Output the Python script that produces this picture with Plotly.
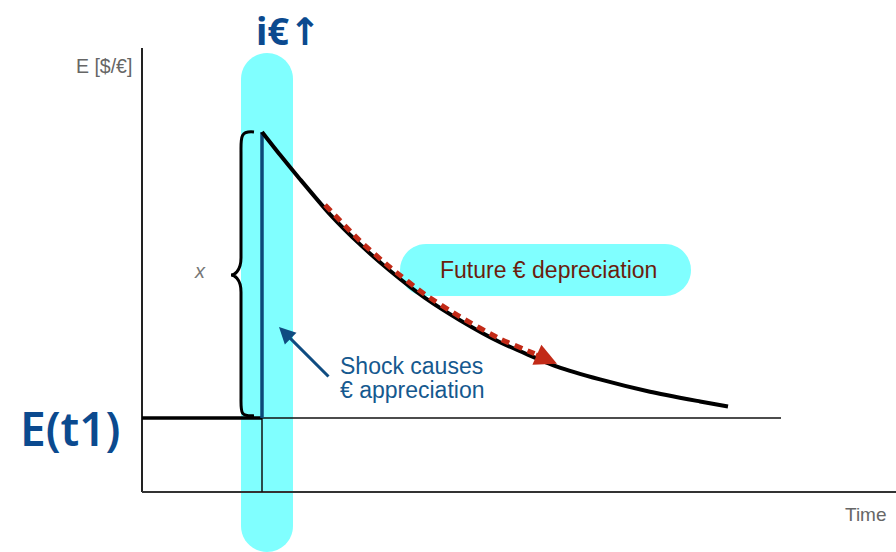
import plotly.graph_objects as go

# ---------------- data (schematic units: time t, exchange rate E) ----------------
T_SHOCK = 0.0            # moment of the shock
E_OLD = 1.00             # E(t1) before the shock
E_PEAK = 2.00            # E right after the shock (overshoot)
T_AXIS_START = -2.4      # origin of the axes
T_AXIS_END = 12.68
E_AXIS_BOTTOM = 0.741
E_AXIS_TOP = 2.294
T_REF_END = 10.38        # end of the thin E(t1) reference line

# path of E after the shock
curve_t = [0.0, 0.36, 0.76, 1.36, 1.96, 2.56, 3.26, 3.96, 4.76, 5.9, 6.76, 7.76, 8.76, 9.32]
curve_E = [2.00, 1.92, 1.835, 1.712, 1.607, 1.515, 1.42, 1.342, 1.265, 1.18, 1.135, 1.092, 1.058, 1.04]

# expected depreciation (red dashed arrow)
exp_t = [1.26, 1.96, 2.56, 3.26, 3.96, 4.76, 5.45]
exp_E = [1.745, 1.619, 1.527, 1.432, 1.354, 1.277, 1.225]
exp_head_t, exp_head_E = 5.9, 1.19

# labels
y_label = "E [$/€]"
x_label = "Time"
pill_label = "Future € depreciation"
shock_lines = ["Shock causes", "€ appreciation"]
gap_label = "x"
hand_E = "E(t1)"
hand_i = "i€↑"

FONT = "Liberation Sans, Arial, Helvetica, sans-serif"
CYAN = "#80ffff"
NAVY = "#0d4a78"
HAND = "#0b4a8f"
RED = "#c22a17"
GRAY = "#666666"

fig = go.Figure()

# axes
fig.add_trace(go.Scatter(x=[T_AXIS_START, T_AXIS_START], y=[E_AXIS_TOP, E_AXIS_BOTTOM],
                         mode="lines", line=dict(color="#222222", width=2)))
fig.add_trace(go.Scatter(x=[T_AXIS_START, T_AXIS_END], y=[E_AXIS_BOTTOM, E_AXIS_BOTTOM],
                         mode="lines", line=dict(color="#333333", width=2)))
# thin reference lines
fig.add_trace(go.Scatter(x=[T_SHOCK, T_REF_END], y=[E_OLD, E_OLD],
                         mode="lines", line=dict(color="#111111", width=1.5)))
fig.add_trace(go.Scatter(x=[T_SHOCK, T_SHOCK], y=[E_AXIS_BOTTOM, E_OLD],
                         mode="lines", line=dict(color="#111111", width=1.5)))
# pre-shock level
fig.add_trace(go.Scatter(x=[T_AXIS_START, T_SHOCK], y=[E_OLD, E_OLD],
                         mode="lines", line=dict(color="#000000", width=3.5)))
# jump
fig.add_trace(go.Scatter(x=[T_SHOCK, T_SHOCK], y=[E_OLD, E_PEAK],
                         mode="lines", line=dict(color=NAVY, width=3.5)))
# decay path
fig.add_trace(go.Scatter(x=curve_t, y=curve_E, mode="lines",
                         line=dict(color="#000000", width=4, shape="spline", smoothing=0.6)))
# expected depreciation
fig.add_trace(go.Scatter(x=exp_t, y=exp_E, mode="lines",
                         line=dict(color=RED, width=5, dash="8px,6px", shape="spline", smoothing=0.6)))

# ---------------- decorations ----------------
def stadium(x0, x1, y0, y1, rx, ry):
    k = 0.5523
    return (f"M {x0},{y1 - ry} C {x0},{y1 - ry + k*ry} {x0 + rx - k*rx},{y1} {x0 + rx},{y1} "
            f"L {x1 - rx},{y1} C {x1 - rx + k*rx},{y1} {x1},{y1 - ry + k*ry} {x1},{y1 - ry} "
            f"L {x1},{y0 + ry} C {x1},{y0 + ry - k*ry} {x1 - rx + k*rx},{y0} {x1 - rx},{y0} "
            f"L {x0 + rx},{y0} C {x0 + rx - k*rx},{y0} {x0},{y0 + ry - k*ry} {x0},{y0 + ry} Z")

RX, RY = 0.52, 0.0909   # 26 px corner radius in data units
shapes = [
    dict(type="path", xref="x", yref="y", layer="below", line=dict(width=0), fillcolor=CYAN,
         path=stadium(T_SHOCK - 0.42, T_SHOCK + 0.62, 0.5315, 2.276, RX, RY)),
    dict(type="path", xref="x", yref="y", layer="below", line=dict(width=0), fillcolor=CYAN,
         path=stadium(2.76, 8.58, 1.4266, 1.6084, RX, RY)),
]
# curly brace spanning the jump
mid = (E_OLD + E_PEAK) / 2
bx, bt, tip = T_SHOCK - 0.42, T_SHOCK - 0.16, T_SHOCK - 0.62
shapes.append(dict(
    type="path", xref="x", yref="y", line=dict(color="#000000", width=3),
    path=(f"M {bt},{E_PEAK} C {bx - 0.02},{E_PEAK + 0.005} {bx},{E_PEAK - 0.02} {bx},{E_PEAK - 0.07} "
          f"L {bx},{mid + 0.06} C {bx},{mid + 0.01} {tip + 0.05},{mid} {tip},{mid} "
          f"C {tip + 0.05},{mid} {bx},{mid - 0.01} {bx},{mid - 0.06} "
          f"L {bx},{E_OLD + 0.07} C {bx},{E_OLD + 0.02} {bx - 0.02},{E_OLD + 0.005} {bt},{E_OLD + 0.008}")))

annotations = [
    dict(x=-2.56, y=2.231, text=y_label, showarrow=False, xanchor="right", yanchor="middle",
         font=dict(family=FONT, size=19.5, color=GRAY)),
    dict(x=12.08, y=0.661, text=x_label, showarrow=False, xanchor="center", yanchor="middle",
         font=dict(family=FONT, size=19, color=GRAY)),
    dict(x=5.72, y=1.516, text=pill_label, showarrow=False, xanchor="center", yanchor="middle",
         font=dict(family=FONT, size=23, color="#6b1d0e")),
    dict(x=1.52, y=1.182, text=shock_lines[0], showarrow=False, xanchor="left", yanchor="middle",
         font=dict(family=FONT, size=23, color="#15598f")),
    dict(x=1.52, y=1.097, text=shock_lines[1], showarrow=False, xanchor="left", yanchor="middle",
         font=dict(family=FONT, size=23, color="#15598f")),
    dict(x=-1.24, y=1.514, text=f"<i>{gap_label}</i>", showarrow=False, xanchor="center", yanchor="middle",
         font=dict(family=FONT, size=20, color="#777777")),
    dict(x=-3.84, y=0.965, text=hand_E, showarrow=False, xanchor="center", yanchor="middle",
         font=dict(family="Noto Sans, DejaVu Sans, sans-serif", size=46, color=HAND, weight=600)),
    dict(x=0.52, y=2.357, text=hand_i, showarrow=False, xanchor="center", yanchor="middle",
         font=dict(family="Noto Sans, DejaVu Sans, sans-serif", size=38, color=HAND, weight=700)),
    # shock arrow
    dict(x=0.34, y=1.318, ax=1.36, ay=1.14, xref="x", yref="y", axref="x", ayref="y", text="",
         showarrow=True, arrowhead=2, arrowsize=1.1, arrowwidth=3, arrowcolor="#0f4c81", standoff=0),
    # red arrow head
    dict(x=exp_head_t, y=exp_head_E, ax=exp_t[-1], ay=exp_E[-1], xref="x", yref="y", axref="x",
         ayref="y", text="", showarrow=True, arrowhead=2, arrowsize=1.1, arrowwidth=4,
         arrowcolor=RED, standoff=0),
]

fig.update_layout(
    width=896, height=552,
    margin=dict(l=0, r=0, t=0, b=0, pad=0),
    paper_bgcolor="white", plot_bgcolor="white",
    showlegend=False, hovermode=False,
    xaxis=dict(range=[-5.24, 12.68], visible=False, fixedrange=True),
    yaxis=dict(range=[0.5315, 2.4615], visible=False, fixedrange=True),
    shapes=shapes, annotations=annotations,
)

fig.write_html("out.html", config={"displayModeBar": False},
               post_script="document.body.style.margin='0';document.body.style.padding='0';")
